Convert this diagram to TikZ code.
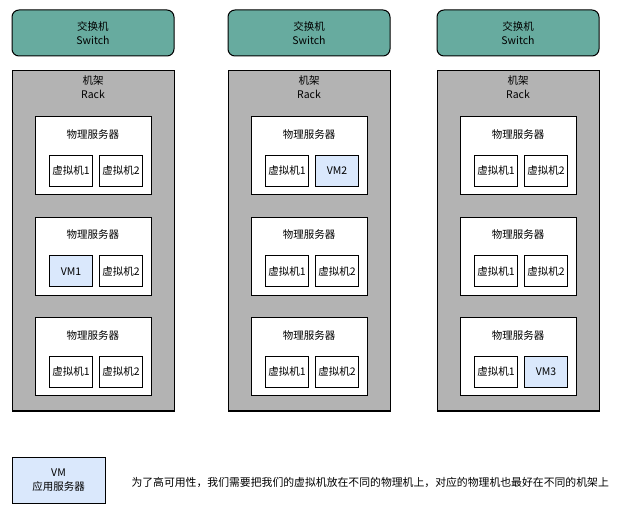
\documentclass[tikz,border=0pt]{standalone}
\usepackage{fontspec}
\setmainfont{Noto Sans CJK SC}
\usetikzlibrary{positioning}
\definecolor{switchgreen}{HTML}{67AB9F}
\definecolor{rackgray}{HTML}{B3B3B3}
\definecolor{vmblue}{HTML}{DAE8FC}
\begin{document}
\begin{tikzpicture}[x=1pt, y=-1pt, line width=1pt, font=\fontsize{10.5}{13.5}\selectfont,
		switchbox/.style={draw, fill=switchgreen, rounded corners=7pt, minimum width=162pt, minimum height=46pt, align=center, inner sep=0pt},
		rackbox/.style={draw, fill=rackgray, minimum width=162pt, minimum height=340pt, inner sep=0pt},
		serverbox/.style={draw, fill=white, minimum width=116pt, minimum height=78pt, inner sep=0pt},
		vmbox/.style={draw, fill=white, minimum width=43pt, minimum height=31pt, inner sep=0pt},
		appvm/.style={vmbox, fill=vmblue},
		lbl/.style={align=center, inner sep=0pt}]
	\useasboundingbox (0,0) rectangle (625,508);
	% racks: number / left edge / server and slot of the application VM
	\foreach \r/\lx/\hs/\hk in {1/12/2/1, 2/228/1/2, 3/437/3/2} {
		\node[switchbox] (sw\r) at (\lx+81,33) {交换机\\Switch};
		\node[rackbox] (rack\r) at (\lx+81,241) {};
		\node[lbl, below=5pt of rack\r.north] (racklbl\r) {机架\\Rack};
		\foreach \s in {1,2,3} {
			\node[serverbox] (srv\r\s) at (\lx+81,{156+100.5*(\s-1)}) {};
			\node[lbl, below=12.5pt of srv\r\s.north] (srvlbl\r\s) {物理服务器};
			\foreach \k/\dx in {1/-22, 2/28} {
				\pgfmathtruncatemacro\hit{and(\s==\hs,\k==\hk)}
				\ifnum\hit=1
					\node[appvm] (vm\r\s\k) at ([xshift=\dx pt, yshift=-15pt]srv\r\s.center) {VM\r};
				\else
					\node[vmbox] (vm\r\s\k) at ([xshift=\dx pt, yshift=-15pt]srv\r\s.center) {虚拟机\k};
				\fi
			}
		}
	}
	% legend
	\node[appvm, minimum width=93pt, minimum height=46pt, align=center] (legend) at (58.5,480) {VM\\应用服务器};
	\node[anchor=west, inner sep=0pt, font=\fontsize{10.85}{13}\selectfont] (note) at (131,482) {为了高可用性，我们需要把我们的虚拟机放在不同的物理机上，对应的物理机也最好在不同的机架上};
\end{tikzpicture}
\end{document}
